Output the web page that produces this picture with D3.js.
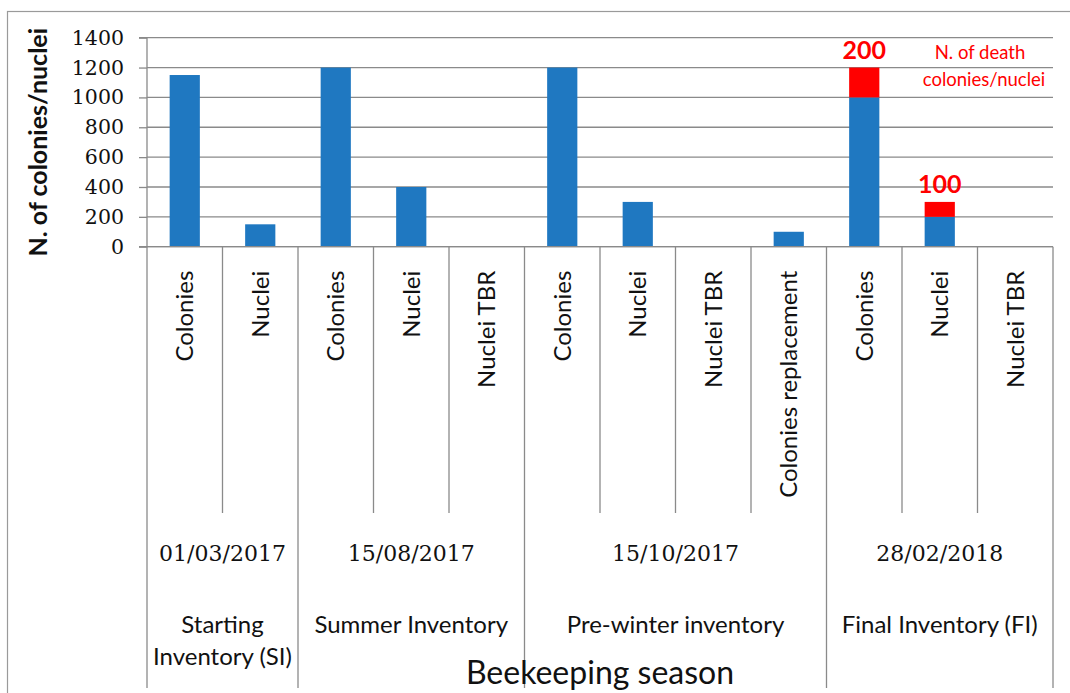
<!DOCTYPE html>
<html>
<head>
<meta charset="utf-8">
<script src="https://cdn.jsdelivr.net/npm/d3@7"></script>
<style>
  html, body { margin: 0; padding: 0; background: #fff; }
  svg { display: block; }
</style>
</head>
<body>
<script>
// categories on the inner axis level, and which season group they belong to
const categories = ["Colonies", "Nuclei", "Colonies", "Nuclei", "Nuclei TBR", "Colonies", "Nuclei", "Nuclei TBR", "Colonies replacement", "Colonies", "Nuclei", "Nuclei TBR"];
const categoryGroup = [0, 0, 1, 1, 1, 2, 2, 2, 2, 3, 3, 3];
const groupDates = ["01/03/2017", "15/08/2017", "15/10/2017", "28/02/2018"];
const groupNames = [["Starting", "Inventory (SI)"], ["Summer Inventory"], ["Pre-winter inventory"], ["Final Inventory (FI)"]];

// alive colonies/nuclei and dead ones (stacked on top)
const aliveValues = [1150, 150, 1200, 400, 0, 1200, 300, 0, 100, 1000, 200, 0];
const deadValues = [0, 0, 0, 0, 0, 0, 0, 0, 0, 200, 100, 0];
const yTicks = [0, 200, 400, 600, 800, 1000, 1200, 1400];

var width = 1070, height = 693;
var plot = { left: 147, right: 1053, top: 37.7, bottom: 246.7 };

var svg = d3.select("body").append("svg").attr("width", width).attr("height", height);

// outer chart border
svg.append("rect")
	.attr("x", 7.5).attr("y", 11.5)
	.attr("width", 1080).attr("height", 700)
	.attr("fill", "none").attr("stroke", "#9a9a9a").attr("stroke-width", 1.2);

var x = d3.scaleBand().domain(d3.range(categories.length)).range([plot.left, plot.right]).paddingInner(0).paddingOuter(0);
var y = d3.scaleLinear().domain([0, 1400]).range([plot.bottom, plot.top]);

// gridlines
svg.append("g")
	.selectAll("line")
	.data(yTicks)
	.enter()
	.append("line")
	.attr("x1", plot.left).attr("x2", plot.right)
	.attr("y1", (d) => y(d)).attr("y2", (d) => y(d))
	.attr("stroke", "#8a8a8a").attr("stroke-width", 1.3);

// y axis
var yAxis = svg.append("g")
	.attr("transform", "translate(" + plot.left + ",0)")
	.call(d3.axisLeft(y).tickValues(yTicks).tickFormat(d3.format("d")).tickSize(8).tickPadding(15));
yAxis.selectAll("line, path").attr("stroke", "#8a8a8a").attr("stroke-width", 1.3);
yAxis.select(".domain").attr("d", "M-8," + y(1400) + "H0V" + y(0) + "H-8");
yAxis.selectAll("text")
	.attr("fill", "#111")
	.style("font-family", "'DejaVu Serif', serif")
	.style("font-size", "20.5px");

// stacked bars
var stackData = categories.map((c, i) => ({ i: i, alive: aliveValues[i], dead: deadValues[i] }));
var series = d3.stack().keys(["alive", "dead"])(stackData);
var colors = { alive: "#1f78c1", dead: "#ff0000" };
var barW = x.bandwidth() * 0.4;

svg.append("g")
	.selectAll("g")
	.data(series)
	.enter()
	.append("g")
	.attr("fill", (s) => colors[s.key])
	.selectAll("rect")
	.data((s) => s.filter((d) => d[1] - d[0] > 0))
	.enter()
	.append("rect")
	.attr("x", (d) => x(d.data.i) + (x.bandwidth() - barW) / 2)
	.attr("width", barW)
	.attr("y", (d) => y(d[1]))
	.attr("height", (d) => y(d[0]) - y(d[1]));

// death labels above the red parts
svg.append("g")
	.selectAll("text")
	.data(stackData.filter((d) => d.dead > 0))
	.enter()
	.append("text")
	.attr("x", (d) => x(d.i) + x.bandwidth() / 2)
	.attr("y", (d) => y(d.alive + d.dead) - 9)
	.attr("text-anchor", "middle")
	.attr("fill", "#ff0000")
	.style("font-family", "Lato, sans-serif")
	.style("font-weight", "bold")
	.style("font-size", "25px")
	.text((d) => d.dead);

// annotation
var note = svg.append("text")
	.attr("text-anchor", "middle")
	.attr("fill", "#ff0000")
	.style("font-family", "Lato, sans-serif")
	.style("font-size", "18.5px");
note.append("tspan").attr("x", 980).attr("y", 59).text("N. of death");
note.append("tspan").attr("x", 984).attr("y", 86).text("colonies/nuclei");

// multi level category axis
var axisY = plot.bottom;
var innerBottom = 513;
var outerBottom = 688;
var groupBounds = groupDates.map((g, gi) => {
	var idx = categoryGroup.map((v, i) => (v === gi ? i : -1)).filter((i) => i >= 0);
	return { start: x(idx[0]), end: x(idx[idx.length - 1]) + x.bandwidth() };
});

var catAxis = svg.append("g");
catAxis.append("line")
	.attr("x1", plot.left).attr("x2", plot.right)
	.attr("y1", axisY).attr("y2", axisY)
	.attr("stroke", "#8a8a8a").attr("stroke-width", 1.3);

// separators between categories
var edges = d3.range(categories.length + 1).map((i) => ({
	x: i < categories.length ? x(i) : plot.right,
	group: i === 0 || i === categories.length || categoryGroup[i] !== categoryGroup[i - 1]
}));
catAxis.selectAll(".sep")
	.data(edges)
	.enter()
	.append("line")
	.attr("class", "sep")
	.attr("x1", (d) => d.x).attr("x2", (d) => d.x)
	.attr("y1", axisY)
	.attr("y2", (d) => (d.group ? outerBottom : innerBottom))
	.attr("stroke", "#8a8a8a").attr("stroke-width", 1.3);

catAxis.selectAll(".cat")
	.data(categories)
	.enter()
	.append("text")
	.attr("class", "cat")
	.attr("transform", (d, i) => "translate(" + (x(i) + x.bandwidth() / 2) + "," + (axisY + 24) + ") rotate(-90)")
	.attr("dy", "0.35em")
	.attr("text-anchor", "end")
	.attr("fill", "#111")
	.style("font-family", "Lato, sans-serif")
	.style("font-size", "24px")
	.text((d) => d);

catAxis.selectAll(".date")
	.data(groupDates)
	.enter()
	.append("text")
	.attr("class", "date")
	.attr("x", (d, i) => (groupBounds[i].start + groupBounds[i].end) / 2)
	.attr("y", 553)
	.attr("dy", "0.35em")
	.attr("text-anchor", "middle")
	.attr("fill", "#111")
	.style("font-family", "'DejaVu Serif', serif")
	.style("font-size", "22px")
	.text((d) => d);

catAxis.selectAll(".grp")
	.data(groupNames)
	.enter()
	.append("text")
	.attr("class", "grp")
	.attr("text-anchor", "middle")
	.attr("fill", "#111")
	.style("font-family", "Lato, sans-serif")
	.style("font-size", "24px")
	.each(function (lines, i) {
		var cx = (groupBounds[i].start + groupBounds[i].end) / 2;
		d3.select(this)
			.selectAll("tspan")
			.data(lines)
			.enter()
			.append("tspan")
			.attr("x", cx)
			.attr("y", (l, j) => 625 + j * 32)
			.attr("dy", "0.35em")
			.text((l) => l);
	});

// axis titles
svg.append("text")
	.attr("x", (plot.left + plot.right) / 2)
	.attr("y", 673)
	.attr("dy", "0.35em")
	.attr("text-anchor", "middle")
	.attr("fill", "#111")
	.style("font-family", "Lato, sans-serif")
	.style("font-size", "32px")
	.text("Beekeeping season");

svg.append("text")
	.attr("transform", "translate(38," + ((plot.top + plot.bottom) / 2) + ") rotate(-90)")
	.attr("dy", "0.35em")
	.attr("text-anchor", "middle")
	.attr("fill", "#111")
	.style("font-family", "Lato, sans-serif")
	.style("font-weight", "bold")
	.style("font-size", "25px")
	.text("N. of colonies/nuclei");
</script>
</body>
</html>
